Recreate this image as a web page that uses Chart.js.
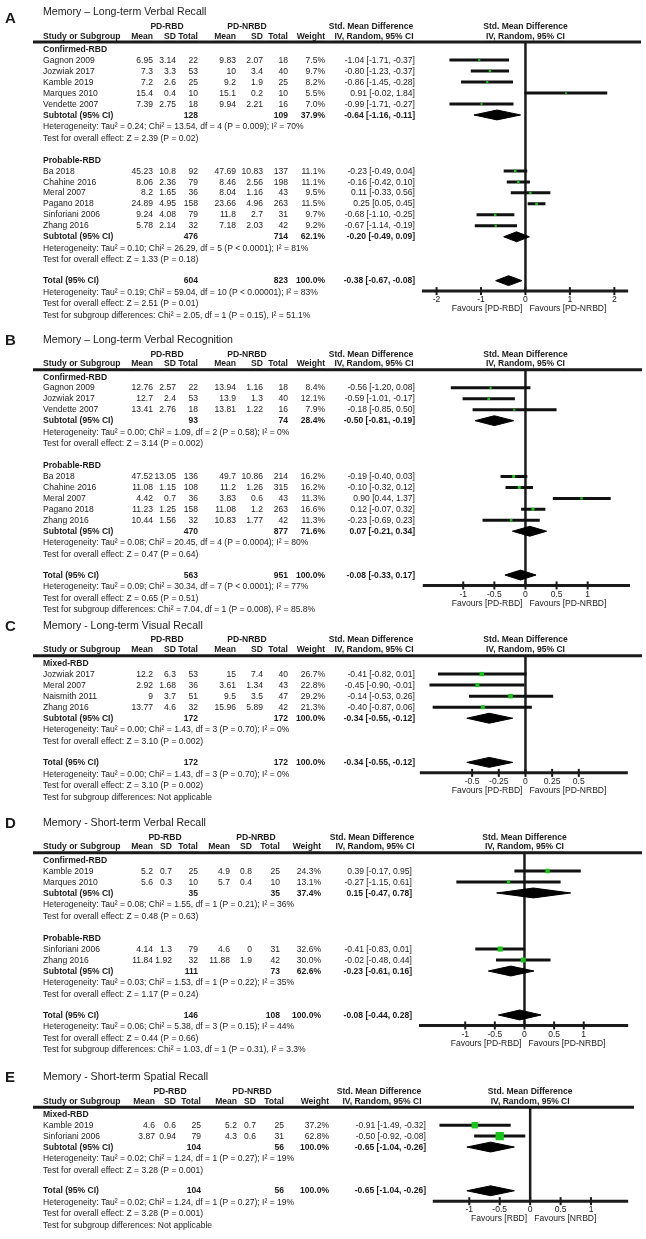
<!DOCTYPE html>
<html>
<head>
<meta charset="utf-8">
<title>Memory – forest plots</title>
<script src="https://cdn.jsdelivr.net/npm/chart.js@4.4.1/dist/chart.umd.min.js"></script>
<style>
  html, body { margin: 0; padding: 0; background: #fff; }
  #page { position: relative; width: 646px; height: 1239px; overflow: hidden; }
  #page canvas { position: absolute; left: 0; }
</style>
</head>
<body>
<div id="page"></div>
<script>
// ---- A: Memory – Long-term Verbal Recall ----
const A_groups = ['Confirmed-RBD', 'Probable-RBD'];
const A_study = ['Gagnon 2009', 'Jozwiak 2017', 'Kamble 2019', 'Marques 2010', 'Vendette 2007',
  'Ba 2018', 'Chahine 2016', 'Meral 2007', 'Pagano 2018', 'Sinforiani 2006', 'Zhang 2016'];
const A_group = [0, 0, 0, 0, 0, 1, 1, 1, 1, 1, 1];
const A_meanRbd = [6.95, 7.3, 7.2, 15.4, 7.39, 45.23, 8.06, 8.2, 24.89, 9.24, 5.78];
const A_sdRbd = [3.14, 3.3, 2.6, 0.4, 2.75, 10.8, 2.36, 1.65, 4.95, 4.08, 2.14];
const A_nRbd = [22, 53, 25, 10, 18, 92, 79, 36, 158, 79, 32];
const A_meanNrbd = [9.83, 10, 9.2, 15.1, 9.94, 47.69, 8.46, 8.04, 23.66, 11.8, 7.18];
const A_sdNrbd = [2.07, 3.4, 1.9, 0.2, 2.21, 10.83, 2.56, 1.16, 4.96, 2.7, 2.03];
const A_nNrbd = [18, 40, 25, 10, 16, 137, 198, 43, 263, 31, 42];
const A_weight = [7.5, 9.7, 8.2, 5.5, 7.0, 11.1, 11.1, 9.5, 11.5, 9.7, 9.2];
const A_smd = [-1.04, -0.80, -0.86, 0.91, -0.99, -0.23, -0.16, 0.11, 0.25, -0.68, -0.67];
const A_lo = [-1.71, -1.23, -1.45, -0.02, -1.71, -0.49, -0.42, -0.33, 0.05, -1.10, -1.14];
const A_hi = [-0.37, -0.37, -0.28, 1.84, -0.27, 0.04, 0.10, 0.56, 0.45, -0.25, -0.19];
// subgroup rows, overall total last
const A_sumNRbd = [128, 476, 604];
const A_sumNNrbd = [109, 714, 823];
const A_sumWeight = [37.9, 62.1, 100.0];
const A_sumSmd = [-0.64, -0.20, -0.38];
const A_sumLo = [-1.16, -0.49, -0.67];
const A_sumHi = [-0.11, 0.09, -0.08];
const A_het = ['Tau² = 0.24; Chi² = 13.54, df = 4 (P = 0.009); I² = 70%',
  'Tau² = 0.10; Chi² = 26.29, df = 5 (P < 0.0001); I² = 81%',
  'Tau² = 0.19; Chi² = 59.04, df = 10 (P < 0.00001); I² = 83%'];
const A_z = ['Z = 2.39 (P = 0.02)', 'Z = 1.33 (P = 0.18)', 'Z = 2.51 (P = 0.01)'];
const A_subgroupTest = 'Chi² = 2.05, df = 1 (P = 0.15), I² = 51.1%';
const A_ticks = [-2, -1, 0, 1, 2];

// ---- B: Memory – Long-term Verbal Recognition ----
const B_groups = ['Confirmed-RBD', 'Probable-RBD'];
const B_study = ['Gagnon 2009', 'Jozwiak 2017', 'Vendette 2007',
  'Ba 2018', 'Chahine 2016', 'Meral 2007', 'Pagano 2018', 'Zhang 2016'];
const B_group = [0, 0, 0, 1, 1, 1, 1, 1];
const B_meanRbd = [12.76, 12.7, 13.41, 47.52, 11.08, 4.42, 11.23, 10.44];
const B_sdRbd = [2.57, 2.4, 2.76, 13.05, 1.15, 0.7, 1.25, 1.56];
const B_nRbd = [22, 53, 18, 136, 108, 36, 158, 32];
const B_meanNrbd = [13.94, 13.9, 13.81, 49.7, 11.2, 3.83, 11.08, 10.83];
const B_sdNrbd = [1.16, 1.3, 1.22, 10.86, 1.26, 0.6, 1.2, 1.77];
const B_nNrbd = [18, 40, 16, 214, 315, 43, 263, 42];
const B_weight = [8.4, 12.1, 7.9, 16.2, 16.2, 11.3, 16.6, 11.3];
const B_smd = [-0.56, -0.59, -0.18, -0.19, -0.10, 0.90, 0.12, -0.23];
const B_lo = [-1.20, -1.01, -0.85, -0.40, -0.32, 0.44, -0.07, -0.69];
const B_hi = [0.08, -0.17, 0.50, 0.03, 0.12, 1.37, 0.32, 0.23];
const B_sumNRbd = [93, 470, 563];
const B_sumNNrbd = [74, 877, 951];
const B_sumWeight = [28.4, 71.6, 100.0];
const B_sumSmd = [-0.50, 0.07, -0.08];
const B_sumLo = [-0.81, -0.21, -0.33];
const B_sumHi = [-0.19, 0.34, 0.17];
const B_het = ['Tau² = 0.00; Chi² = 1.09, df = 2 (P = 0.58); I² = 0%',
  'Tau² = 0.08; Chi² = 20.45, df = 4 (P = 0.0004); I² = 80%',
  'Tau² = 0.09; Chi² = 30.34, df = 7 (P < 0.0001); I² = 77%'];
const B_z = ['Z = 3.14 (P = 0.002)', 'Z = 0.47 (P = 0.64)', 'Z = 0.65 (P = 0.51)'];
const B_subgroupTest = 'Chi² = 7.04, df = 1 (P = 0.008), I² = 85.8%';
const B_ticks = [-1, -0.5, 0, 0.5, 1];

// ---- C: Memory - Long-term Visual Recall ----
const C_groups = ['Mixed-RBD'];
const C_study = ['Jozwiak 2017', 'Meral 2007', 'Naismith 2011', 'Zhang 2016'];
const C_group = [0, 0, 0, 0];
const C_meanRbd = [12.2, 2.92, 9, 13.77];
const C_sdRbd = [6.3, 1.68, 3.7, 4.6];
const C_nRbd = [53, 36, 51, 32];
const C_meanNrbd = [15, 3.61, 9.5, 15.96];
const C_sdNrbd = [7.4, 1.34, 3.5, 5.89];
const C_nNrbd = [40, 43, 47, 42];
const C_weight = [26.7, 22.8, 29.2, 21.3];
const C_smd = [-0.41, -0.45, -0.14, -0.40];
const C_lo = [-0.82, -0.90, -0.53, -0.87];
const C_hi = [0.01, -0.01, 0.26, 0.06];
const C_sumNRbd = [172, 172];
const C_sumNNrbd = [172, 172];
const C_sumWeight = [100.0, 100.0];
const C_sumSmd = [-0.34, -0.34];
const C_sumLo = [-0.55, -0.55];
const C_sumHi = [-0.12, -0.12];
const C_het = ['Tau² = 0.00; Chi² = 1.43, df = 3 (P = 0.70); I² = 0%',
  'Tau² = 0.00; Chi² = 1.43, df = 3 (P = 0.70); I² = 0%'];
const C_z = ['Z = 3.10 (P = 0.002)', 'Z = 3.10 (P = 0.002)'];
const C_subgroupTest = 'Not applicable';
const C_ticks = [-0.5, -0.25, 0, 0.25, 0.5];

// ---- D: Memory - Short-term Verbal Recall ----
const D_groups = ['Confirmed-RBD', 'Probable-RBD'];
const D_study = ['Kamble 2019', 'Marques 2010', 'Sinforiani 2006', 'Zhang 2016'];
const D_group = [0, 0, 1, 1];
const D_meanRbd = [5.2, 5.6, 4.14, 11.84];
const D_sdRbd = [0.7, 0.3, 1.3, 1.92];
const D_nRbd = [25, 10, 79, 32];
const D_meanNrbd = [4.9, 5.7, 4.6, 11.88];
const D_sdNrbd = [0.8, 0.4, 0, 1.9];
const D_nNrbd = [25, 10, 31, 42];
const D_weight = [24.3, 13.1, 32.6, 30.0];
const D_smd = [0.39, -0.27, -0.41, -0.02];
const D_lo = [-0.17, -1.15, -0.83, -0.48];
const D_hi = [0.95, 0.61, 0.01, 0.44];
const D_sumNRbd = [35, 111, 146];
const D_sumNNrbd = [35, 73, 108];
const D_sumWeight = [37.4, 62.6, 100.0];
const D_sumSmd = [0.15, -0.23, -0.08];
const D_sumLo = [-0.47, -0.61, -0.44];
const D_sumHi = [0.78, 0.16, 0.28];
const D_het = ['Tau² = 0.08; Chi² = 1.55, df = 1 (P = 0.21); I² = 36%',
  'Tau² = 0.03; Chi² = 1.53, df = 1 (P = 0.22); I² = 35%',
  'Tau² = 0.06; Chi² = 5.38, df = 3 (P = 0.15); I² = 44%'];
const D_z = ['Z = 0.48 (P = 0.63)', 'Z = 1.17 (P = 0.24)', 'Z = 0.44 (P = 0.66)'];
const D_subgroupTest = 'Chi² = 1.03, df = 1 (P = 0.31), I² = 3.3%';
const D_ticks = [-1, -0.5, 0, 0.5, 1];

// ---- E: Memory - Short-term Spatial Recall ----
const E_groups = ['Mixed-RBD'];
const E_study = ['Kamble 2019', 'Sinforiani 2006'];
const E_group = [0, 0];
const E_meanRbd = [4.6, 3.87];
const E_sdRbd = [0.6, 0.94];
const E_nRbd = [25, 79];
const E_meanNrbd = [5.2, 4.3];
const E_sdNrbd = [0.7, 0.6];
const E_nNrbd = [25, 31];
const E_weight = [37.2, 62.8];
const E_smd = [-0.91, -0.50];
const E_lo = [-1.49, -0.92];
const E_hi = [-0.32, -0.08];
const E_sumNRbd = [104, 104];
const E_sumNNrbd = [56, 56];
const E_sumWeight = [100.0, 100.0];
const E_sumSmd = [-0.65, -0.65];
const E_sumLo = [-1.04, -1.04];
const E_sumHi = [-0.26, -0.26];
const E_het = ['Tau² = 0.02; Chi² = 1.24, df = 1 (P = 0.27); I² = 19%',
  'Tau² = 0.02; Chi² = 1.24, df = 1 (P = 0.27); I² = 19%'];
const E_z = ['Z = 3.28 (P = 0.001)', 'Z = 3.28 (P = 0.001)'];
const E_subgroupTest = 'Not applicable';
const E_ticks = [-1, -0.5, 0, 0.5, 1];

const INK = '#1b1b1b';
const GREEN = '#17c617';
const FONT = '"Liberation Sans", Arial, Helvetica, sans-serif';

// column anchors (px): right edges for numbers, centres for the group headings
const COLS_ABC = { name: 43, m1: 153, s1: 176, n1: 198, m2: 236, s2: 263, n2: 288, w: 325, ci: 415, rbd: 167, nrbd: 247, smd: 371 };
const COLS_D = { name: 43, m1: 153, s1: 172, n1: 198, m2: 230, s2: 252, n2: 280, w: 321, ci: 412, rbd: 165, nrbd: 256, smd: 372 };
const COLS_E = { name: 43, m1: 155, s1: 176, n1: 201, m2: 237, s2: 256, n2: 284, w: 329, ci: 426, rbd: 170, nrbd: 252, smd: 379 };

const FAV = ['Favours [PD-RBD]', 'Favours [PD-NRBD]'];

const panels = [
  { letter: 'A', title: 'Memory – Long-term Verbal Recall', groups: A_groups, study: A_study, group: A_group,
    meanRbd: A_meanRbd, sdRbd: A_sdRbd, nRbd: A_nRbd, meanNrbd: A_meanNrbd, sdNrbd: A_sdNrbd, nNrbd: A_nNrbd,
    weight: A_weight, smd: A_smd, lo: A_lo, hi: A_hi, sumNRbd: A_sumNRbd, sumNNrbd: A_sumNNrbd, sumWeight: A_sumWeight,
    sumSmd: A_sumSmd, sumLo: A_sumLo, sumHi: A_sumHi, het: A_het, z: A_z, subgroupTest: A_subgroupTest, ticks: A_ticks, favours: FAV,
    cols: COLS_ABC, layout: { top: 0, height: 326, titleY: 8, pitch: 11.25, zero: 528, unit: 45, axisFrom: -2.33, axisTo: 2.31, sq: 0.75, letterDy: 7, ruleEnd: 641 } },
  { letter: 'B', title: 'Memory – Long-term Verbal Recognition', groups: B_groups, study: B_study, group: B_group,
    meanRbd: B_meanRbd, sdRbd: B_sdRbd, nRbd: B_nRbd, meanNrbd: B_meanNrbd, sdNrbd: B_sdNrbd, nNrbd: B_nNrbd,
    weight: B_weight, smd: B_smd, lo: B_lo, hi: B_hi, sumNRbd: B_sumNRbd, sumNNrbd: B_sumNNrbd, sumWeight: B_sumWeight,
    sumSmd: B_sumSmd, sumLo: B_sumLo, sumHi: B_sumHi, het: B_het, z: B_z, subgroupTest: B_subgroupTest, ticks: B_ticks, favours: FAV,
    cols: COLS_ABC, layout: { top: 324, height: 297, titleY: 336, pitch: 11.25, zero: 528, unit: 63, axisFrom: -1.65, axisTo: 1.68, sq: 0.75, letterDy: 1, ruleEnd: 642 } },
  { letter: 'C', title: 'Memory - Long-term Visual Recall', groups: C_groups, study: C_study, group: C_group,
    meanRbd: C_meanRbd, sdRbd: C_sdRbd, nRbd: C_nRbd, meanNrbd: C_meanNrbd, sdNrbd: C_sdNrbd, nNrbd: C_nNrbd,
    weight: C_weight, smd: C_smd, lo: C_lo, hi: C_hi, sumNRbd: C_sumNRbd, sumNNrbd: C_sumNNrbd, sumWeight: C_sumWeight,
    sumSmd: C_sumSmd, sumLo: C_sumLo, sumHi: C_sumHi, het: C_het, z: C_z, subgroupTest: C_subgroupTest, ticks: C_ticks, favours: FAV,
    cols: COLS_ABC, layout: { top: 610, height: 199, titleY: 622, pitch: 11.5, zero: 528, unit: 108, axisFrom: -0.99, axisTo: 0.96, sq: 0.85, letterDy: 1, ruleEnd: 642 } },
  { letter: 'D', title: 'Memory - Short-term Verbal Recall', groups: D_groups, study: D_study, group: D_group,
    meanRbd: D_meanRbd, sdRbd: D_sdRbd, nRbd: D_nRbd, meanNrbd: D_meanNrbd, sdNrbd: D_sdNrbd, nNrbd: D_nNrbd,
    weight: D_weight, smd: D_smd, lo: D_lo, hi: D_hi, sumNRbd: D_sumNRbd, sumNNrbd: D_sumNNrbd, sumWeight: D_sumWeight,
    sumSmd: D_sumSmd, sumLo: D_sumLo, sumHi: D_sumHi, het: D_het, z: D_z, subgroupTest: D_subgroupTest, ticks: D_ticks, favours: FAV,
    cols: COLS_D, layout: { top: 807, height: 254, titleY: 819, pitch: 11.35, zero: 527, unit: 60, axisFrom: -1.78, axisTo: 1.75, sq: 0.9, letterDy: 1, ruleEnd: 642 } },
  { letter: 'E', title: 'Memory - Short-term Spatial Recall', groups: E_groups, study: E_study, group: E_group,
    meanRbd: E_meanRbd, sdRbd: E_sdRbd, nRbd: E_nRbd, meanNrbd: E_meanNrbd, sdNrbd: E_sdNrbd, nNrbd: E_nNrbd,
    weight: E_weight, smd: E_smd, lo: E_lo, hi: E_hi, sumNRbd: E_sumNRbd, sumNNrbd: E_sumNNrbd, sumWeight: E_sumWeight,
    sumSmd: E_sumSmd, sumLo: E_sumLo, sumHi: E_sumHi, het: E_het, z: E_z, subgroupTest: E_subgroupTest, ticks: E_ticks,
    favours: ['Favours [RBD]', 'Favours [NRBD]'],
    cols: COLS_E, layout: { top: 1060, height: 179, titleY: 1072, pitch: 11.7, zero: 534, unit: 62, axisFrom: -1.6, axisTo: 1.61, sq: 1.05, letterDy: 1, ruleEnd: 634 } }
];

function label(ctx, str, x, y, opt = {}) {
  const size = opt.size || 9.5, sx = opt.sx || 0.9, align = opt.align || 'left';
  ctx.save();
  ctx.font = (opt.bold ? 'bold ' : '') + size + 'px ' + FONT;
  ctx.fillStyle = INK;
  ctx.textAlign = align;
  ctx.textBaseline = 'middle';
  ctx.translate(x, y);
  ctx.scale(sx, 1);
  ctx.fillText(str, 0, 0);
  const w = ctx.measureText(str).width * sx;
  ctx.restore();
  if (opt.underline) {
    const x0 = align === 'left' ? x : align === 'right' ? x - w : x - w / 2;
    ctx.save();
    ctx.strokeStyle = INK;
    ctx.lineWidth = 0.8;
    ctx.beginPath(); ctx.moveTo(x0, y + 5.5); ctx.lineTo(x0 + w, y + 5.5); ctx.stroke();
    ctx.restore();
  }
}

function seg(ctx, x1, y1, x2, y2) {
  ctx.beginPath(); ctx.moveTo(x1, y1); ctx.lineTo(x2, y2); ctx.stroke();
}

const ciText = (m, l, h) => `${m.toFixed(2)} [${l.toFixed(2)}, ${h.toFixed(2)}]`;

// row positions in "row units" from the title line
function rowSlots(p) {
  const r = { group: [], study: [], sum: [], het: [], z: [] };
  let s = 3.4;
  p.groups.forEach((g, gi) => {
    r.group[gi] = s; s += 1;
    p.study.forEach((_, i) => { if (p.group[i] === gi) { r.study[i] = s; s += 1; } });
    r.sum[gi] = s; r.het[gi] = s + 1.05; r.z[gi] = s + 2.1;
    s += 2.1 + 2.0;
  });
  const t = p.groups.length;
  r.sum[t] = s - 0.1;
  r.het[t] = r.sum[t] + 1.05;
  r.z[t] = r.sum[t] + 2.1;
  r.sub = r.sum[t] + 3.15;
  r.axis = r.sum[t] + 0.95;
  return r;
}

function buildPanel(p) {
  const L = p.layout, c = p.cols;
  const r = rowSlots(p);
  const canvas = document.createElement('canvas');
  canvas.width = 646;
  canvas.height = L.height;
  canvas.style.top = L.top + 'px';
  document.getElementById('page').appendChild(canvas);

  const yMin = -(L.titleY - L.top) / L.pitch;

  const ciLines = [];
  p.study.forEach((_, i) => {
    ciLines.push({ x: p.lo[i], y: r.study[i] }, { x: p.hi[i], y: r.study[i] }, { x: null, y: null });
  });

  const datasets = [
    { order: 0, data: p.study.map((_, i) => ({ x: p.smd[i], y: r.study[i] })),
      pointStyle: 'rect', pointRadius: p.weight.map(w => L.sq * Math.sqrt(w) / Math.SQRT2),
      backgroundColor: GREEN, pointBorderWidth: 0, borderWidth: 0, showLine: false },
    { order: 1, data: ciLines, showLine: true, spanGaps: false, borderColor: '#111', borderWidth: 3,
      borderCapStyle: 'butt', pointRadius: 0, fill: false }
  ];
  p.sumSmd.forEach((m, j) => {
    const y = r.sum[j];
    datasets.push({ order: 2, showLine: true, fill: 'shape', tension: 0,
      data: [{ x: p.sumLo[j], y }, { x: m, y: y - 0.45 }, { x: p.sumHi[j], y }, { x: m, y: y + 0.45 }, { x: p.sumLo[j], y }],
      backgroundColor: '#000', borderColor: '#000', borderWidth: 1, pointRadius: 0 });
  });

  const decor = {
    id: 'forestDecor',
    beforeDatasetsDraw(chart) {
      const { ctx, scales: { x, y } } = chart;
      const x0 = x.getPixelForValue(0);
      const yRule = y.getPixelForValue(2.75), yAxis = y.getPixelForValue(r.axis);
      ctx.save();
      ctx.strokeStyle = INK;
      ctx.lineCap = 'butt';
      ctx.lineWidth = 3;
      seg(ctx, 33, yRule, L.ruleEnd, yRule);
      ctx.lineWidth = 2.5;
      seg(ctx, x0, yRule, x0, yAxis);
      ctx.lineWidth = 3;
      seg(ctx, x.getPixelForValue(L.axisFrom), yAxis, x.getPixelForValue(L.axisTo), yAxis);
      ctx.lineWidth = 2;
      p.ticks.forEach(t => { const px = x.getPixelForValue(t); seg(ctx, px, yAxis - 4, px, yAxis + 4); });
      ctx.restore();
    },
    afterDraw(chart) {
      const { ctx, scales: { x, y } } = chart;
      const Y = v => y.getPixelForValue(v);
      const x0 = x.getPixelForValue(0);
      const R = { align: 'right' }, RB = { align: 'right', bold: true };

      label(ctx, p.letter, 5, Y(0) + L.letterDy, { bold: true, size: 15, sx: 1 });
      label(ctx, p.title, c.name, Y(0), { size: 11.5, sx: 0.92 });

      const h1 = Y(1.3), h2 = Y(2.2);
      label(ctx, 'PD-RBD', c.rbd, h1, { bold: true, align: 'center' });
      label(ctx, 'PD-NRBD', c.nrbd, h1, { bold: true, align: 'center' });
      label(ctx, 'Std. Mean Difference', c.smd, h1, { bold: true, align: 'center' });
      label(ctx, 'Std. Mean Difference', x0, h1, { bold: true, align: 'center' });
      label(ctx, 'Study or Subgroup', c.name, h2, { bold: true, underline: true });
      [['Mean', c.m1], ['SD', c.s1], ['Total', c.n1], ['Mean', c.m2], ['SD', c.s2], ['Total', c.n2], ['Weight', c.w]]
        .forEach(([t, px]) => label(ctx, t, px, h2, { bold: true, underline: true, align: 'right' }));
      label(ctx, 'IV, Random, 95% CI', c.smd + 3, h2, { bold: true, underline: true, align: 'center' });
      label(ctx, 'IV, Random, 95% CI', x0, h2, { bold: true, underline: true, align: 'center' });

      p.groups.forEach((g, gi) => label(ctx, g, c.name, Y(r.group[gi]), { bold: true }));

      p.study.forEach((name, i) => {
        const yy = Y(r.study[i]);
        label(ctx, name, c.name, yy);
        label(ctx, String(p.meanRbd[i]), c.m1, yy, R);
        label(ctx, String(p.sdRbd[i]), c.s1, yy, R);
        label(ctx, String(p.nRbd[i]), c.n1, yy, R);
        label(ctx, String(p.meanNrbd[i]), c.m2, yy, R);
        label(ctx, String(p.sdNrbd[i]), c.s2, yy, R);
        label(ctx, String(p.nNrbd[i]), c.n2, yy, R);
        label(ctx, p.weight[i].toFixed(1) + '%', c.w, yy, R);
        label(ctx, ciText(p.smd[i], p.lo[i], p.hi[i]), c.ci, yy, R);
      });

      p.sumSmd.forEach((m, j) => {
        const yy = Y(r.sum[j]);
        label(ctx, j < p.groups.length ? 'Subtotal (95% CI)' : 'Total (95% CI)', c.name, yy, { bold: true });
        label(ctx, String(p.sumNRbd[j]), c.n1, yy, RB);
        label(ctx, String(p.sumNNrbd[j]), c.n2, yy, RB);
        label(ctx, p.sumWeight[j].toFixed(1) + '%', c.w, yy, RB);
        label(ctx, ciText(m, p.sumLo[j], p.sumHi[j]), c.ci, yy, RB);
        label(ctx, 'Heterogeneity: ' + p.het[j], c.name, Y(r.het[j]));
        label(ctx, 'Test for overall effect: ' + p.z[j], c.name, Y(r.z[j]));
      });
      label(ctx, 'Test for subgroup differences: ' + p.subgroupTest, c.name, Y(r.sub));

      const yAxis = Y(r.axis);
      p.ticks.forEach(t => label(ctx, String(t), x.getPixelForValue(t), yAxis + 8.5, { align: 'center' }));
      label(ctx, p.favours[0], x0 - 3, yAxis + 17.5, { align: 'right' });
      label(ctx, p.favours[1], x0 + 4, yAxis + 17.5);
    }
  };

  return new Chart(canvas, {
    type: 'scatter',
    data: { datasets },
    options: {
      responsive: false,
      animation: false,
      devicePixelRatio: 1,
      events: [],
      layout: { padding: 0 },
      plugins: { legend: { display: false }, tooltip: { enabled: false } },
      scales: {
        x: { type: 'linear', display: false, min: -L.zero / L.unit, max: (646 - L.zero) / L.unit },
        y: { type: 'linear', display: false, reverse: true, min: yMin, max: yMin + L.height / L.pitch }
      }
    },
    plugins: [decor]
  });
}

panels.forEach(buildPanel);
</script>
</body>
</html>
